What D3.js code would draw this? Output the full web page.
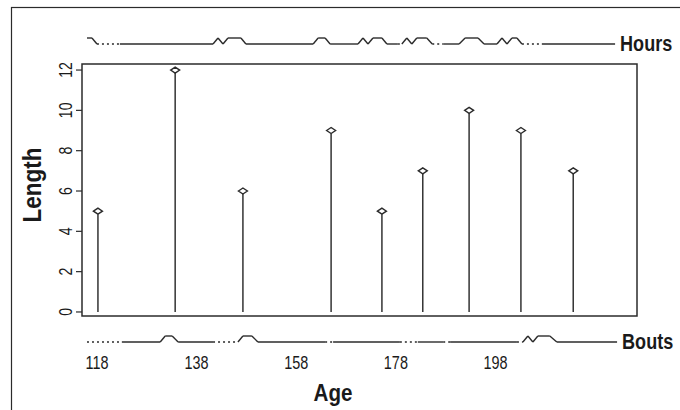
<!DOCTYPE html>
<html>
<head>
<meta charset="utf-8">
<title>Length by Age</title>
<style>
  body { margin: 0; background: #fff; }
  svg text { font-family: "Liberation Sans", Arial, sans-serif; fill: #1a1a1a; }
  .lab { font-weight: bold; }
</style>
<script src="https://d3js.org/d3.v7.min.js"></script>
</head>
<body>
<div id="chart"></div>
<script>
// stems: age and length
const ages    = [118.2, 133.7, 147.3, 165.0, 175.2, 183.4, 192.7, 203.1, 213.6];
const lengths = [5, 12, 6, 9, 5, 7, 10, 9, 7];
const ageTicks    = [118, 138, 158, 178, 198];
const lengthTicks = [0, 2, 4, 6, 8, 10, 12];

// activity strips: [age, level (0/1), style of the piece to the next point: s = solid, d = dotted]
const hours = [
  [116.0, 1, 's'], [117.0, 1, 's'], [118.0, 0, 'd'], [122.6, 0, 's'],
  [141.3, 0, 's'], [142.3, 1, 's'], [143.3, 0, 's'], [144.3, 1, 's'],
  [146.9, 1, 's'], [147.9, 0, 's'], [161.4, 0, 's'], [162.4, 1, 's'],
  [163.8, 1, 's'], [164.8, 0, 's'], [170.4, 0, 's'], [171.4, 1, 's'],
  [172.4, 0, 's'], [173.4, 1, 's'], [175.2, 1, 's'], [176.2, 0, 's'],
  [178.4, 0, 'd'], [179.2, 0, 's'], [180.2, 1, 's'], [181.2, 0, 's'],
  [182.2, 1, 's'], [184.2, 1, 's'], [185.3, 0, 'd'], [187.5, 0, 's'],
  [190.7, 0, 's'], [191.9, 1, 's'], [194.5, 1, 's'], [195.7, 0, 's'],
  [198.3, 0, 's'], [199.3, 1, 's'], [200.3, 0, 's'], [201.3, 1, 's'],
  [202.3, 1, 's'], [203.3, 0, 'd'], [207.3, 0, 's'], [222.0, 0, 's']
];
const bouts = [
  [116.0, 0, 'd'], [123.0, 0, 's'], [130.7, 0, 's'], [131.7, 1, 's'],
  [133.1, 1, 's'], [134.3, 0, 's'], [141.3, 0, 'd'], [146.3, 0, 's'],
  [147.3, 1, 's'], [149.1, 1, 's'], [150.3, 0, 's'], [163.8, 0, 'd'],
  [165.4, 0, 's'], [178.8, 0, 'd'], [182.4, 0, 's'], [187.5, 0, 'd'],
  [188.9, 0, 's'], [202.3, 0, 'd'], [203.5, 0, 's'], [204.5, 1, 's'],
  [205.5, 0, 's'], [206.5, 1, 's'], [208.9, 1, 's'], [210.3, 0, 's'],
  [222.4, 0, 's']
];

const W = 680, H = 410;
const ink = '#2b2b2b';
const narrow = 0.76;   // the original uses a condensed face

const svg = d3.select('#chart').append('svg')
    .attr('width', W)
    .attr('height', H);

// outer frame (only top/left fall inside the window)
svg.append('rect')
    .attr('x', 11.5).attr('y', 7.5)
    .attr('width', 700).attr('height', 420)
    .attr('fill', 'none').attr('stroke', ink).attr('stroke-width', 1.2);

const plot = { left: 82, right: 637, top: 64, bottom: 316 };

const x = d3.scaleLinear().domain([115, 226.4]).range([plot.left, plot.right]);
const y = d3.scaleLinear().domain([-0.2, 12.3]).range([plot.bottom, plot.top]);

// plot box
svg.append('rect')
    .attr('x', plot.left).attr('y', plot.top)
    .attr('width', plot.right - plot.left).attr('height', plot.bottom - plot.top)
    .attr('fill', 'none').attr('stroke', ink).attr('stroke-width', 1.5);

// y axis
const yAxis = svg.append('g')
    .attr('transform', `translate(${plot.left},0)`)
    .call(d3.axisLeft(y).tickValues(lengthTicks).tickSize(6).tickFormat(d3.format('d')));
yAxis.select('.domain').remove();
yAxis.selectAll('.tick').attr('transform', null);
yAxis.selectAll('.tick line')
    .attr('y1', d => y(d)).attr('y2', d => y(d))
    .attr('stroke', ink).attr('stroke-width', 1.2);
yAxis.selectAll('.tick text')
    .attr('font-size', 18.5)
    .attr('text-anchor', 'middle')
    .attr('x', null).attr('dy', null)
    .attr('transform', d => `translate(-10,${y(d)}) rotate(-90) scale(${narrow},1)`);

// stems
const stems = svg.append('g');
ages.forEach((a, i) => {
  stems.append('line')
      .attr('x1', x(a)).attr('x2', x(a))
      .attr('y1', y(0)).attr('y2', y(lengths[i]) + 3)
      .attr('stroke', '#333').attr('stroke-width', 1.5);
  const cx = x(a), cy = y(lengths[i]);
  stems.append('path')
      .attr('d', `M${cx - 4.5},${cy}L${cx},${cy - 3}L${cx + 4.5},${cy}L${cx},${cy + 3}Z`)
      .attr('fill', '#fff').attr('stroke', ink).attr('stroke-width', 1.4);
});

// activity strips
function strip(pts, base, label) {
  const sy = d3.scaleLinear().domain([0, 1]).range([base, base - 6]);
  const g = svg.append('g');
  for (let i = 0; i < pts.length - 1; i++) {
    const p = pts[i], q = pts[i + 1];
    g.append('line')
        .attr('x1', x(p[0])).attr('y1', sy(p[1]))
        .attr('x2', x(q[0])).attr('y2', sy(q[1]))
        .attr('stroke', ink).attr('stroke-width', 1.4)
        .attr('stroke-dasharray', p[2] === 'd' ? '2,3' : null);
  }
  g.append('text')
      .attr('class', 'lab')
      .attr('transform', `translate(${x(pts[pts.length - 1][0]) + 5},${base + 7}) scale(0.84,1)`)
      .attr('font-size', 21.5)
      .text(label);
}
strip(hours, 44, 'Hours');
strip(bouts, 342, 'Bouts');

// x tick labels (no axis line)
svg.append('g').selectAll('text')
    .data(ageTicks)
    .join('text')
    .attr('transform', d => `translate(${x(d)},369) scale(${narrow},1)`)
    .attr('text-anchor', 'middle')
    .attr('font-size', 19)
    .text(d => d);

// axis titles
svg.append('text')
    .attr('class', 'lab')
    .attr('transform', 'translate(333,401) scale(0.86,1)')
    .attr('text-anchor', 'middle')
    .attr('font-size', 24)
    .text('Age');

svg.append('text')
    .attr('class', 'lab')
    .attr('transform', `translate(41,${(plot.top + plot.bottom) / 2 - 5}) rotate(-90) scale(0.9,1)`)
    .attr('text-anchor', 'middle')
    .attr('font-size', 25)
    .text('Length');
</script>
</body>
</html>
